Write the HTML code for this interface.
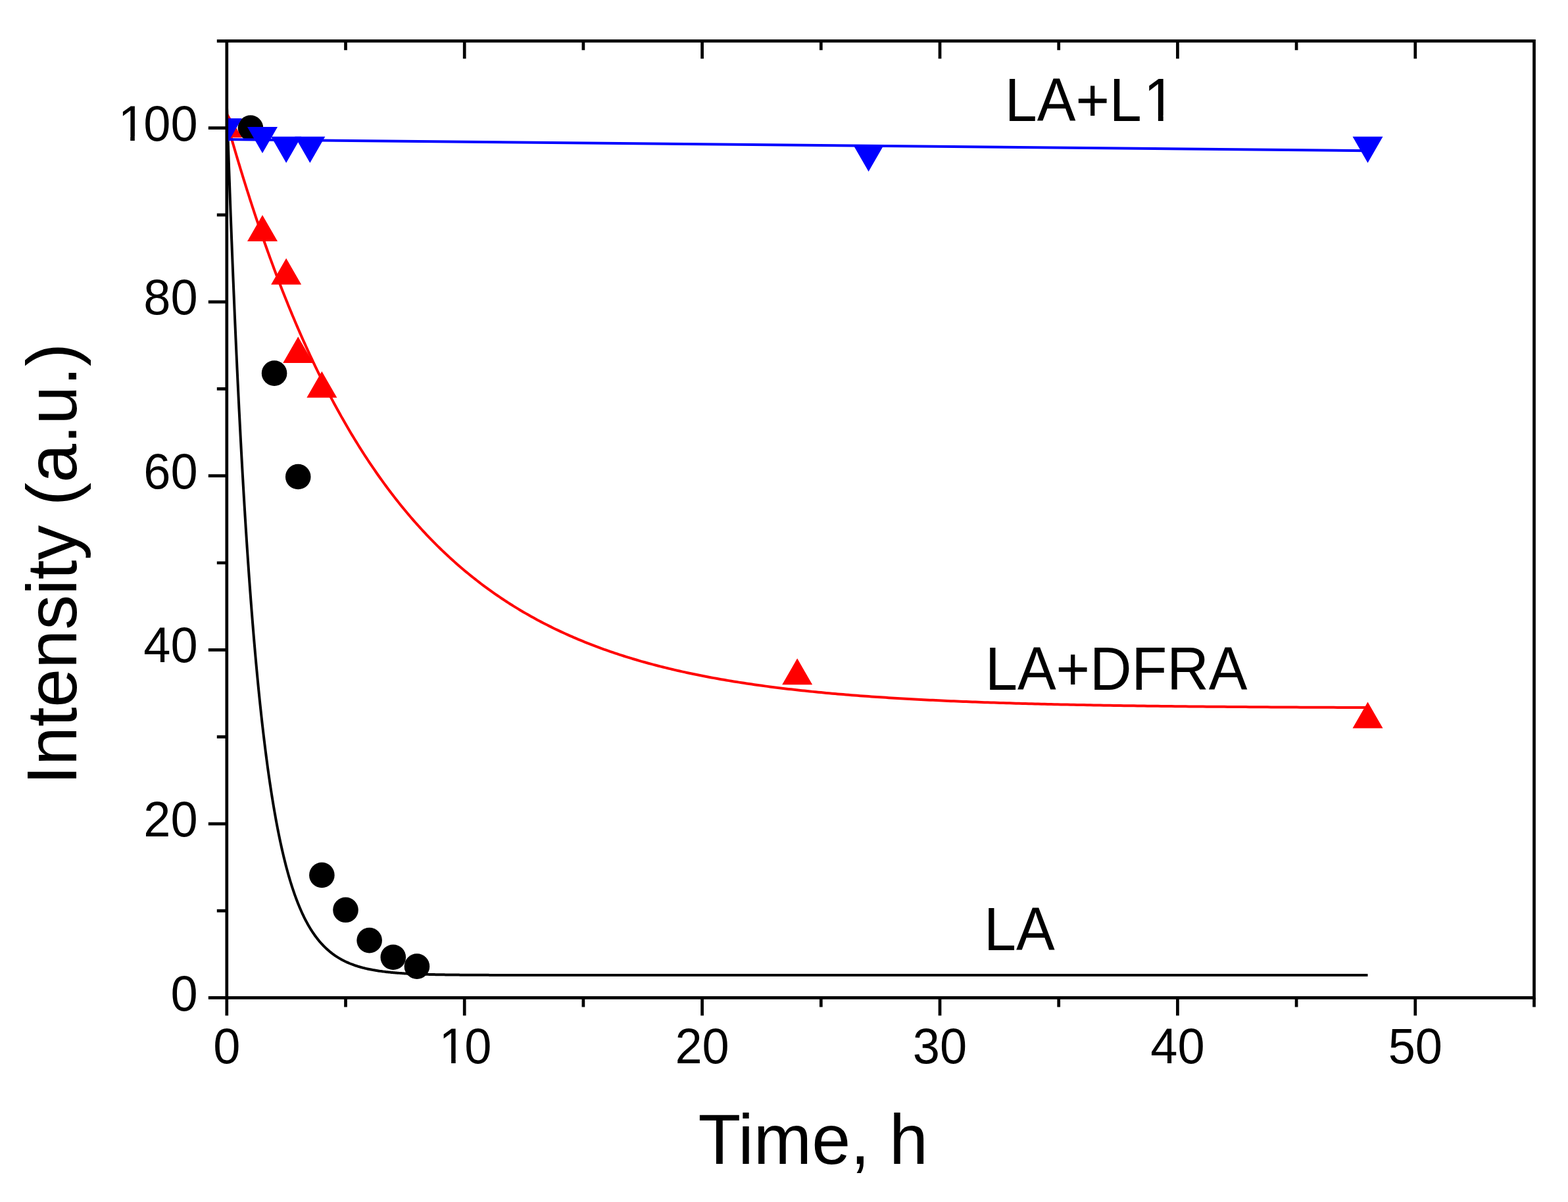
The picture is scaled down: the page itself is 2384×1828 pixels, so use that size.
<!DOCTYPE html>
<html><head><meta charset="utf-8"><title>Intensity vs Time</title>
<style>html,body{margin:0;padding:0;background:#fff;}svg{display:block;}text{font-family:"Liberation Sans",Arial,sans-serif;fill:#000;}</style>
</head><body>
<svg width="2384" height="1828" viewBox="0 0 2384 1828">
<rect width="2384" height="1828" fill="#fff"/>
<defs><clipPath id="c"><rect x="344.80" y="62.32" width="1987.70" height="1455.08"/></clipPath></defs>
<g clip-path="url(#c)">
<path d="M344.80,157.56 L344.80,157.63 L344.81,157.82 L344.82,158.15 L344.83,158.61 L344.85,159.20 L344.88,159.92 L344.90,160.76 L344.94,161.74 L344.97,162.85 L345.01,164.09 L345.06,165.46 L345.11,166.95 L345.16,168.58 L345.22,170.33 L345.28,172.21 L345.35,174.21 L345.42,176.34 L345.49,178.60 L345.57,180.98 L345.66,183.49 L345.74,186.11 L345.84,188.87 L345.93,191.74 L346.03,194.73 L346.14,197.85 L346.25,201.08 L346.36,204.43 L346.48,207.90 L346.60,211.48 L346.73,215.18 L346.86,218.99 L346.99,222.92 L347.13,226.96 L347.28,231.11 L347.42,235.37 L347.58,239.73 L347.73,244.21 L347.89,248.79 L348.06,253.47 L348.23,258.26 L348.40,263.15 L348.58,268.14 L348.76,273.23 L348.95,278.41 L349.14,283.69 L349.33,289.07 L349.53,294.54 L349.73,300.10 L349.94,305.76 L350.15,311.50 L350.37,317.33 L350.59,323.24 L350.82,329.24 L351.04,335.32 L351.28,341.48 L351.52,347.72 L351.76,354.04 L352.00,360.43 L352.26,366.90 L352.51,373.44 L352.77,380.05 L353.03,386.73 L353.30,393.47 L353.57,400.29 L353.85,407.16 L354.13,414.10 L354.41,421.10 L354.70,428.15 L355.00,435.26 L355.29,442.43 L355.60,449.65 L355.90,456.92 L356.21,464.25 L356.53,471.61 L356.85,479.03 L357.17,486.49 L357.50,493.99 L357.83,501.53 L358.17,509.11 L358.51,516.73 L358.85,524.38 L359.20,532.06 L359.55,539.78 L359.91,547.53 L360.27,555.30 L360.64,563.10 L361.01,570.93 L361.38,578.78 L361.76,586.65 L362.15,594.53 L362.53,602.44 L362.93,610.36 L363.32,618.30 L363.72,626.25 L364.13,634.21 L364.54,642.17 L364.95,650.15 L365.37,658.13 L365.79,666.12 L366.22,674.11 L366.65,682.10 L367.08,690.08 L367.52,698.07 L367.96,706.05 L368.41,714.03 L368.86,722.00 L369.32,729.97 L369.78,737.92 L370.24,745.86 L370.71,753.79 L371.19,761.70 L371.66,769.60 L372.15,777.49 L372.63,785.35 L373.12,793.20 L373.62,801.02 L374.12,808.82 L374.62,816.60 L375.13,824.36 L375.64,832.08 L376.16,839.78 L376.68,847.46 L377.20,855.10 L377.73,862.71 L378.26,870.29 L378.80,877.84 L379.34,885.35 L379.89,892.83 L380.44,900.28 L380.99,907.68 L381.55,915.05 L382.12,922.38 L382.68,929.67 L383.26,936.91 L383.83,944.12 L384.41,951.28 L385.00,958.41 L385.59,965.48 L386.18,972.51 L386.78,979.50 L387.38,986.44 L387.98,993.33 L388.59,1000.17 L389.21,1006.97 L389.83,1013.71 L390.45,1020.41 L391.08,1027.05 L391.71,1033.65 L392.35,1040.19 L392.99,1046.68 L393.63,1053.12 L394.28,1059.50 L394.93,1065.83 L395.59,1072.11 L396.25,1078.33 L396.92,1084.50 L397.59,1090.61 L398.26,1096.67 L398.94,1102.67 L399.63,1108.61 L400.31,1114.50 L401.00,1120.33 L401.70,1126.11 L402.40,1131.82 L403.11,1137.48 L403.81,1143.09 L404.53,1148.63 L405.25,1154.12 L405.97,1159.54 L406.69,1164.91 L407.42,1170.23 L408.16,1175.48 L408.90,1180.67 L409.64,1185.81 L410.39,1190.89 L411.14,1195.91 L411.90,1200.87 L412.66,1205.77 L413.42,1210.62 L414.19,1215.40 L414.96,1220.13 L415.74,1224.80 L416.52,1229.42 L417.31,1233.97 L418.10,1238.47 L418.89,1242.91 L419.69,1247.29 L420.49,1251.61 L421.30,1255.88 L422.11,1260.09 L422.93,1264.25 L423.75,1268.35 L424.57,1272.39 L425.40,1276.38 L426.24,1280.31 L427.07,1284.18 L427.91,1288.01 L428.76,1291.77 L429.61,1295.48 L430.47,1299.14 L431.32,1302.75 L432.19,1306.30 L433.05,1309.80 L433.93,1313.25 L434.80,1316.64 L435.68,1319.98 L436.57,1323.27 L437.46,1326.51 L438.35,1329.70 L439.25,1332.84 L440.15,1335.93 L441.05,1338.97 L441.96,1341.96 L442.88,1344.91 L443.80,1347.80 L444.72,1350.65 L445.65,1353.45 L446.58,1356.20 L447.51,1358.91 L448.45,1361.57 L449.40,1364.19 L450.35,1366.76 L451.30,1369.29 L452.26,1371.77 L453.22,1374.21 L454.19,1376.60 L455.16,1378.96 L456.13,1381.27 L457.11,1383.54 L458.09,1385.77 L459.08,1387.96 L460.07,1390.11 L461.07,1392.22 L462.07,1394.29 L463.07,1396.32 L464.08,1398.31 L465.09,1400.27 L466.11,1402.18 L467.13,1404.07 L468.16,1405.91 L469.19,1407.72 L470.22,1409.49 L471.26,1411.23 L472.30,1412.94 L473.35,1414.61 L474.40,1416.25 L475.46,1417.86 L476.52,1419.43 L477.58,1420.97 L478.65,1422.48 L479.72,1423.96 L480.80,1425.41 L481.88,1426.83 L482.97,1428.22 L484.06,1429.58 L485.15,1430.91 L486.25,1432.21 L487.36,1433.49 L488.46,1434.73 L489.57,1435.96 L490.69,1437.15 L491.81,1438.32 L492.93,1439.46 L494.06,1440.58 L495.20,1441.68 L496.33,1442.75 L497.47,1443.79 L498.62,1444.81 L499.77,1445.81 L500.92,1446.79 L502.08,1447.75 L503.25,1448.68 L504.41,1449.59 L505.58,1450.48 L506.76,1451.35 L507.94,1452.20 L509.13,1453.03 L510.31,1453.84 L511.51,1454.63 L512.70,1455.40 L513.91,1456.16 L515.11,1456.90 L516.32,1457.61 L517.54,1458.31 L518.75,1459.00 L519.98,1459.67 L521.20,1460.32 L522.44,1460.95 L523.67,1461.57 L524.91,1462.18 L526.16,1462.77 L527.40,1463.34 L528.66,1463.90 L529.91,1464.45 L531.18,1464.98 L532.44,1465.50 L533.71,1466.00 L534.99,1466.49 L536.26,1466.97 L537.55,1467.44 L538.83,1467.90 L540.13,1468.34 L541.42,1468.77 L542.72,1469.19 L544.03,1469.60 L545.33,1470.00 L546.65,1470.39 L547.96,1470.77 L549.28,1471.13 L550.61,1471.49 L551.94,1471.84 L553.27,1472.18 L554.61,1472.51 L555.96,1472.83 L557.30,1473.14 L558.65,1473.44 L560.01,1473.73 L561.37,1474.02 L562.73,1474.30 L564.10,1474.57 L565.48,1474.83 L566.85,1475.09 L568.23,1475.34 L569.62,1475.58 L571.01,1475.81 L572.40,1476.04 L573.80,1476.26 L575.21,1476.48 L576.61,1476.68 L578.02,1476.89 L579.44,1477.08 L580.86,1477.27 L582.28,1477.46 L583.71,1477.64 L585.14,1477.81 L586.58,1477.98 L588.02,1478.15 L589.47,1478.31 L590.92,1478.46 L592.37,1478.61 L593.83,1478.76 L595.29,1478.90 L596.76,1479.03 L598.23,1479.17 L599.71,1479.29 L601.19,1479.42 L602.67,1479.54 L604.16,1479.66 L605.65,1479.77 L607.15,1479.88 L608.65,1479.99 L610.16,1480.09 L611.67,1480.19 L613.18,1480.29 L614.70,1480.38 L616.22,1480.47 L617.75,1480.56 L619.28,1480.64 L620.82,1480.73 L622.36,1480.80 L623.90,1480.88 L625.45,1480.96 L627.00,1481.03 L628.56,1481.10 L630.12,1481.17 L631.68,1481.23 L633.25,1481.29 L634.83,1481.36 L636.41,1481.41 L637.99,1481.47 L639.58,1481.53 L641.17,1481.58 L642.76,1481.63 L644.36,1481.68 L645.97,1481.73 L647.58,1481.78 L649.19,1481.82 L650.80,1481.86 L652.43,1481.91 L654.05,1481.95 L655.68,1481.99 L657.32,1482.02 L658.95,1482.06 L660.60,1482.10 L662.24,1482.13 L663.89,1482.16 L665.55,1482.19 L667.21,1482.22 L668.87,1482.25 L670.54,1482.28 L672.21,1482.31 L673.89,1482.34 L675.57,1482.36 L677.26,1482.39 L678.95,1482.41 L680.64,1482.43 L682.34,1482.45 L684.04,1482.48 L685.75,1482.50 L687.46,1482.52 L689.18,1482.54 L690.90,1482.55 L692.62,1482.57 L694.35,1482.59 L696.08,1482.60 L697.82,1482.62 L699.56,1482.64 L701.30,1482.65 L703.05,1482.66 L704.81,1482.68 L706.57,1482.69 L708.33,1482.70 L710.10,1482.72 L711.87,1482.73 L713.64,1482.74 L715.42,1482.75 L717.21,1482.76 L718.99,1482.77 L720.79,1482.78 L722.58,1482.79 L724.38,1482.80 L726.19,1482.81 L728.00,1482.81 L729.81,1482.82 L731.63,1482.83 L733.45,1482.84 L735.28,1482.84 L737.11,1482.85 L738.95,1482.86 L740.79,1482.86 L742.63,1482.87 L744.48,1482.88 L746.33,1482.88 L748.19,1482.89 L750.05,1482.89 L751.92,1482.90 L753.78,1482.90 L755.66,1482.91 L757.54,1482.91 L759.42,1482.91 L761.31,1482.92 L763.20,1482.92 L765.09,1482.93 L766.99,1482.93 L768.90,1482.93 L770.80,1482.94 L772.72,1482.94 L774.63,1482.94 L776.55,1482.94 L778.48,1482.95 L780.41,1482.95 L782.34,1482.95 L784.28,1482.95 L786.22,1482.96 L788.17,1482.96 L790.12,1482.96 L792.08,1482.96 L794.04,1482.97 L796.00,1482.97 L797.97,1482.97 L799.94,1482.97 L801.92,1482.97 L803.90,1482.97 L805.88,1482.98 L807.87,1482.98 L809.87,1482.98 L811.87,1482.98 L813.87,1482.98 L815.87,1482.98 L817.89,1482.98 L819.90,1482.98 L821.92,1482.99 L823.94,1482.99 L825.97,1482.99 L828.01,1482.99 L830.04,1482.99 L832.08,1482.99 L834.13,1482.99 L836.18,1482.99 L838.23,1482.99 L840.29,1482.99 L842.35,1482.99 L844.42,1482.99 L846.49,1482.99 L848.56,1483.00 L850.64,1483.00 L852.73,1483.00 L854.82,1483.00 L856.91,1483.00 L859.01,1483.00 L861.11,1483.00 L863.21,1483.00 L865.32,1483.00 L867.43,1483.00 L869.55,1483.00 L871.68,1483.00 L873.80,1483.00 L875.93,1483.00 L878.07,1483.00 L880.21,1483.00 L882.35,1483.00 L884.50,1483.00 L886.65,1483.00 L888.81,1483.00 L890.97,1483.00 L893.13,1483.00 L895.30,1483.00 L897.48,1483.00 L899.66,1483.00 L901.84,1483.00 L904.02,1483.00 L906.22,1483.00 L908.41,1483.00 L910.61,1483.00 L912.81,1483.00 L915.02,1483.00 L917.23,1483.00 L919.45,1483.00 L921.67,1483.00 L923.90,1483.01 L926.13,1483.01 L928.36,1483.01 L930.60,1483.01 L932.84,1483.01 L935.09,1483.01 L937.34,1483.01 L939.59,1483.01 L941.85,1483.01 L944.12,1483.01 L946.38,1483.01 L948.66,1483.01 L950.93,1483.01 L953.21,1483.01 L955.50,1483.01 L957.79,1483.01 L960.08,1483.01 L962.38,1483.01 L964.68,1483.01 L966.99,1483.01 L969.30,1483.01 L971.61,1483.01 L973.93,1483.01 L976.26,1483.01 L978.59,1483.01 L980.92,1483.01 L983.25,1483.01 L985.59,1483.01 L987.94,1483.01 L990.29,1483.01 L992.64,1483.01 L995.00,1483.01 L997.36,1483.01 L999.73,1483.01 L1002.10,1483.01 L1004.48,1483.01 L1006.85,1483.01 L1009.24,1483.01 L1011.63,1483.01 L1014.02,1483.01 L1016.42,1483.01 L1018.82,1483.01 L1021.22,1483.01 L1023.63,1483.01 L1026.04,1483.01 L1028.46,1483.01 L1030.88,1483.01 L1033.31,1483.01 L1035.74,1483.01 L1038.18,1483.01 L1040.62,1483.01 L1043.06,1483.01 L1045.51,1483.01 L1047.96,1483.01 L1050.42,1483.01 L1052.88,1483.01 L1055.34,1483.01 L1057.81,1483.01 L1060.28,1483.01 L1062.76,1483.01 L1065.24,1483.01 L1067.73,1483.01 L1070.22,1483.01 L1072.72,1483.01 L1075.22,1483.01 L1077.72,1483.01 L1080.23,1483.01 L1082.74,1483.01 L1085.26,1483.01 L1087.78,1483.01 L1090.30,1483.01 L1092.83,1483.01 L1095.36,1483.01 L1097.90,1483.01 L1100.44,1483.01 L1102.99,1483.01 L1105.54,1483.01 L1108.10,1483.01 L1110.66,1483.01 L1113.22,1483.01 L1115.79,1483.01 L1118.36,1483.01 L1120.94,1483.01 L1123.52,1483.01 L1126.10,1483.01 L1128.69,1483.01 L1131.28,1483.01 L1133.88,1483.01 L1136.48,1483.01 L1139.09,1483.01 L1141.70,1483.01 L1144.32,1483.01 L1146.93,1483.01 L1149.56,1483.01 L1152.19,1483.01 L1154.82,1483.01 L1157.45,1483.01 L1160.09,1483.01 L1162.74,1483.01 L1165.39,1483.01 L1168.04,1483.01 L1170.70,1483.01 L1173.36,1483.01 L1176.03,1483.01 L1178.70,1483.01 L1181.37,1483.01 L1184.05,1483.01 L1186.74,1483.01 L1189.42,1483.01 L1192.12,1483.01 L1194.81,1483.01 L1197.51,1483.01 L1200.22,1483.01 L1202.93,1483.01 L1205.64,1483.01 L1208.36,1483.01 L1211.08,1483.01 L1213.81,1483.01 L1216.54,1483.01 L1219.27,1483.01 L1222.01,1483.01 L1224.75,1483.01 L1227.50,1483.01 L1230.25,1483.01 L1233.01,1483.01 L1235.77,1483.01 L1238.54,1483.01 L1241.31,1483.01 L1244.08,1483.01 L1246.86,1483.01 L1249.64,1483.01 L1252.42,1483.01 L1255.22,1483.01 L1258.01,1483.01 L1260.81,1483.01 L1263.61,1483.01 L1266.42,1483.01 L1269.23,1483.01 L1272.05,1483.01 L1274.87,1483.01 L1277.69,1483.01 L1280.52,1483.01 L1283.36,1483.01 L1286.19,1483.01 L1289.04,1483.01 L1291.88,1483.01 L1294.73,1483.01 L1297.59,1483.01 L1300.45,1483.01 L1303.31,1483.01 L1306.18,1483.01 L1309.05,1483.01 L1311.93,1483.01 L1314.81,1483.01 L1317.69,1483.01 L1320.58,1483.01 L1323.47,1483.01 L1326.37,1483.01 L1329.27,1483.01 L1332.18,1483.01 L1335.09,1483.01 L1338.00,1483.01 L1340.92,1483.01 L1343.85,1483.01 L1346.77,1483.01 L1349.71,1483.01 L1352.64,1483.01 L1355.58,1483.01 L1358.53,1483.01 L1361.48,1483.01 L1364.43,1483.01 L1367.39,1483.01 L1370.35,1483.01 L1373.32,1483.01 L1376.29,1483.01 L1379.26,1483.01 L1382.24,1483.01 L1385.22,1483.01 L1388.21,1483.01 L1391.20,1483.01 L1394.20,1483.01 L1397.20,1483.01 L1400.20,1483.01 L1403.21,1483.01 L1406.23,1483.01 L1409.24,1483.01 L1412.27,1483.01 L1415.29,1483.01 L1418.32,1483.01 L1421.36,1483.01 L1424.40,1483.01 L1427.44,1483.01 L1430.49,1483.01 L1433.54,1483.01 L1436.59,1483.01 L1439.65,1483.01 L1442.72,1483.01 L1445.79,1483.01 L1448.86,1483.01 L1451.94,1483.01 L1455.02,1483.01 L1458.11,1483.01 L1461.20,1483.01 L1464.29,1483.01 L1467.39,1483.01 L1470.49,1483.01 L1473.60,1483.01 L1476.71,1483.01 L1479.83,1483.01 L1482.95,1483.01 L1486.07,1483.01 L1489.20,1483.01 L1492.34,1483.01 L1495.47,1483.01 L1498.62,1483.01 L1501.76,1483.01 L1504.91,1483.01 L1508.07,1483.01 L1511.23,1483.01 L1514.39,1483.01 L1517.56,1483.01 L1520.73,1483.01 L1523.90,1483.01 L1527.08,1483.01 L1530.27,1483.01 L1533.46,1483.01 L1536.65,1483.01 L1539.85,1483.01 L1543.05,1483.01 L1546.26,1483.01 L1549.47,1483.01 L1552.68,1483.01 L1555.90,1483.01 L1559.12,1483.01 L1562.35,1483.01 L1565.58,1483.01 L1568.82,1483.01 L1572.06,1483.01 L1575.30,1483.01 L1578.55,1483.01 L1581.81,1483.01 L1585.06,1483.01 L1588.32,1483.01 L1591.59,1483.01 L1594.86,1483.01 L1598.14,1483.01 L1601.41,1483.01 L1604.70,1483.01 L1607.98,1483.01 L1611.28,1483.01 L1614.57,1483.01 L1617.87,1483.01 L1621.18,1483.01 L1624.49,1483.01 L1627.80,1483.01 L1631.12,1483.01 L1634.44,1483.01 L1637.76,1483.01 L1641.09,1483.01 L1644.43,1483.01 L1647.77,1483.01 L1651.11,1483.01 L1654.46,1483.01 L1657.81,1483.01 L1661.17,1483.01 L1664.53,1483.01 L1667.89,1483.01 L1671.26,1483.01 L1674.63,1483.01 L1678.01,1483.01 L1681.39,1483.01 L1684.78,1483.01 L1688.17,1483.01 L1691.56,1483.01 L1694.96,1483.01 L1698.36,1483.01 L1701.77,1483.01 L1705.18,1483.01 L1708.60,1483.01 L1712.02,1483.01 L1715.44,1483.01 L1718.87,1483.01 L1722.30,1483.01 L1725.74,1483.01 L1729.18,1483.01 L1732.63,1483.01 L1736.08,1483.01 L1739.53,1483.01 L1742.99,1483.01 L1746.46,1483.01 L1749.92,1483.01 L1753.39,1483.01 L1756.87,1483.01 L1760.35,1483.01 L1763.84,1483.01 L1767.32,1483.01 L1770.82,1483.01 L1774.31,1483.01 L1777.82,1483.01 L1781.32,1483.01 L1784.83,1483.01 L1788.35,1483.01 L1791.86,1483.01 L1795.39,1483.01 L1798.92,1483.01 L1802.45,1483.01 L1805.98,1483.01 L1809.52,1483.01 L1813.07,1483.01 L1816.62,1483.01 L1820.17,1483.01 L1823.73,1483.01 L1827.29,1483.01 L1830.85,1483.01 L1834.42,1483.01 L1838.00,1483.01 L1841.58,1483.01 L1845.16,1483.01 L1848.75,1483.01 L1852.34,1483.01 L1855.93,1483.01 L1859.53,1483.01 L1863.14,1483.01 L1866.75,1483.01 L1870.36,1483.01 L1873.98,1483.01 L1877.60,1483.01 L1881.22,1483.01 L1884.85,1483.01 L1888.49,1483.01 L1892.13,1483.01 L1895.77,1483.01 L1899.42,1483.01 L1903.07,1483.01 L1906.72,1483.01 L1910.38,1483.01 L1914.05,1483.01 L1917.72,1483.01 L1921.39,1483.01 L1925.07,1483.01 L1928.75,1483.01 L1932.44,1483.01 L1936.13,1483.01 L1939.82,1483.01 L1943.52,1483.01 L1947.22,1483.01 L1950.93,1483.01 L1954.64,1483.01 L1958.36,1483.01 L1962.08,1483.01 L1965.80,1483.01 L1969.53,1483.01 L1973.26,1483.01 L1977.00,1483.01 L1980.74,1483.01 L1984.49,1483.01 L1988.24,1483.01 L1991.99,1483.01 L1995.75,1483.01 L1999.51,1483.01 L2003.28,1483.01 L2007.05,1483.01 L2010.83,1483.01 L2014.61,1483.01 L2018.39,1483.01 L2022.18,1483.01 L2025.97,1483.01 L2029.77,1483.01 L2033.57,1483.01 L2037.37,1483.01 L2041.18,1483.01 L2045.00,1483.01 L2048.82,1483.01 L2052.64,1483.01 L2056.47,1483.01 L2060.30,1483.01 L2064.13,1483.01 L2067.97,1483.01 L2071.82,1483.01 L2075.67,1483.01 L2079.52,1483.01" fill="none" stroke="#000" stroke-width="4.0" stroke-linejoin="round"/>
<circle cx="380.94" cy="194.60" r="19.3" fill="#000"/>
<circle cx="417.08" cy="567.63" r="19.3" fill="#000"/>
<circle cx="453.22" cy="725.04" r="19.3" fill="#000"/>
<circle cx="489.36" cy="1330.89" r="19.3" fill="#000"/>
<circle cx="525.50" cy="1383.80" r="19.3" fill="#000"/>
<circle cx="561.64" cy="1430.10" r="19.3" fill="#000"/>
<circle cx="597.78" cy="1455.76" r="19.3" fill="#000"/>
<circle cx="633.92" cy="1469.65" r="19.3" fill="#000"/>
<path d="M344.80,185.34 L344.80,185.36 L344.82,185.41 L344.84,185.50 L344.88,185.62 L344.92,185.77 L344.97,185.96 L345.04,186.18 L345.11,186.44 L345.19,186.73 L345.28,187.06 L345.38,187.42 L345.49,187.82 L345.61,188.25 L345.74,188.71 L345.88,189.21 L346.03,189.74 L346.19,190.31 L346.36,190.90 L346.54,191.54 L346.73,192.21 L346.93,192.91 L347.13,193.64 L347.35,194.41 L347.58,195.21 L347.81,196.04 L348.06,196.91 L348.31,197.81 L348.58,198.75 L348.85,199.71 L349.14,200.71 L349.43,201.74 L349.73,202.81 L350.05,203.91 L350.37,205.04 L350.70,206.20 L351.04,207.39 L351.40,208.62 L351.76,209.87 L352.13,211.16 L352.51,212.48 L352.90,213.84 L353.30,215.22 L353.71,216.63 L354.13,218.08 L354.56,219.55 L355.00,221.06 L355.44,222.60 L355.90,224.16 L356.37,225.76 L356.85,227.39 L357.33,229.04 L357.83,230.73 L358.34,232.44 L358.85,234.19 L359.38,235.96 L359.91,237.76 L360.46,239.59 L361.01,241.45 L361.57,243.34 L362.15,245.25 L362.73,247.20 L363.32,249.17 L363.93,251.16 L364.54,253.19 L365.16,255.24 L365.79,257.32 L366.43,259.42 L367.08,261.55 L367.74,263.70 L368.41,265.89 L369.09,268.09 L369.78,270.32 L370.48,272.58 L371.19,274.86 L371.91,277.17 L372.63,279.50 L373.37,281.85 L374.12,284.23 L374.87,286.63 L375.64,289.06 L376.42,291.50 L377.20,293.97 L378.00,296.47 L378.80,298.98 L379.61,301.52 L380.44,304.07 L381.27,306.65 L382.12,309.25 L382.97,311.88 L383.83,314.52 L384.70,317.18 L385.59,319.86 L386.48,322.56 L387.38,325.28 L388.29,328.02 L389.21,330.78 L390.14,333.56 L391.08,336.36 L392.03,339.17 L392.99,342.00 L393.96,344.85 L394.93,347.72 L395.92,350.60 L396.92,353.50 L397.93,356.41 L398.94,359.35 L399.97,362.29 L401.00,365.26 L402.05,368.23 L403.11,371.23 L404.17,374.23 L405.25,377.25 L406.33,380.29 L407.42,383.34 L408.53,386.40 L409.64,389.48 L410.76,392.56 L411.90,395.67 L413.04,398.78 L414.19,401.90 L415.35,405.04 L416.52,408.19 L417.70,411.34 L418.89,414.51 L420.09,417.69 L421.30,420.88 L422.52,424.08 L423.75,427.29 L424.99,430.51 L426.24,433.74 L427.49,436.97 L428.76,440.22 L430.04,443.47 L431.32,446.73 L432.62,450.00 L433.93,453.27 L435.24,456.55 L436.57,459.84 L437.90,463.13 L439.25,466.43 L440.60,469.74 L441.96,473.05 L443.34,476.37 L444.72,479.69 L446.11,483.01 L447.51,486.34 L448.93,489.68 L450.35,493.02 L451.78,496.36 L453.22,499.70 L454.67,503.05 L456.13,506.40 L457.60,509.75 L459.08,513.11 L460.57,516.46 L462.07,519.82 L463.58,523.18 L465.09,526.54 L466.62,529.90 L468.16,533.26 L469.70,536.63 L471.26,539.99 L472.83,543.35 L474.40,546.71 L475.99,550.07 L477.58,553.43 L479.19,556.79 L480.80,560.14 L482.43,563.50 L484.06,566.85 L485.70,570.20 L487.36,573.55 L489.02,576.89 L490.69,580.23 L492.37,583.57 L494.06,586.90 L495.76,590.24 L497.47,593.56 L499.19,596.89 L500.92,600.20 L502.66,603.52 L504.41,606.83 L506.17,610.13 L507.94,613.43 L509.72,616.72 L511.51,620.01 L513.30,623.29 L515.11,626.57 L516.93,629.84 L518.75,633.10 L520.59,636.35 L522.44,639.60 L524.29,642.84 L526.16,646.08 L528.03,649.30 L529.91,652.52 L531.81,655.73 L533.71,658.94 L535.62,662.13 L537.55,665.32 L539.48,668.49 L541.42,671.66 L543.37,674.82 L545.33,677.97 L547.30,681.11 L549.28,684.24 L551.28,687.36 L553.27,690.47 L555.28,693.57 L557.30,696.67 L559.33,699.75 L561.37,702.82 L563.42,705.88 L565.48,708.93 L567.54,711.96 L569.62,714.99 L571.71,718.01 L573.80,721.01 L575.91,724.00 L578.02,726.98 L580.15,729.95 L582.28,732.91 L584.43,735.86 L586.58,738.79 L588.75,741.71 L590.92,744.62 L593.10,747.51 L595.29,750.40 L597.50,753.27 L599.71,756.13 L601.93,758.97 L604.16,761.80 L606.40,764.62 L608.65,767.43 L610.91,770.22 L613.18,773.00 L615.46,775.76 L617.75,778.51 L620.05,781.25 L622.36,783.98 L624.67,786.69 L627.00,789.38 L629.34,792.06 L631.68,794.73 L634.04,797.39 L636.41,800.03 L638.78,802.65 L641.17,805.26 L643.56,807.86 L645.97,810.44 L648.38,813.01 L650.80,815.56 L653.24,818.10 L655.68,820.62 L658.13,823.13 L660.60,825.62 L663.07,828.10 L665.55,830.57 L668.04,833.01 L670.54,835.45 L673.05,837.87 L675.57,840.27 L678.10,842.66 L680.64,845.03 L683.19,847.39 L685.75,849.73 L688.32,852.06 L690.90,854.37 L693.48,856.67 L696.08,858.95 L698.69,861.22 L701.30,863.47 L703.93,865.71 L706.57,867.93 L709.21,870.13 L711.87,872.32 L714.53,874.50 L717.21,876.66 L719.89,878.80 L722.58,880.93 L725.29,883.04 L728.00,885.14 L730.72,887.22 L733.45,889.29 L736.20,891.34 L738.95,893.38 L741.71,895.40 L744.48,897.40 L747.26,899.39 L750.05,901.37 L752.85,903.33 L755.66,905.27 L758.48,907.20 L761.31,909.12 L764.14,911.02 L766.99,912.90 L769.85,914.77 L772.72,916.62 L775.59,918.46 L778.48,920.28 L781.38,922.09 L784.28,923.89 L787.20,925.66 L790.12,927.43 L793.06,929.18 L796.00,930.91 L798.95,932.63 L801.92,934.33 L804.89,936.02 L807.87,937.70 L810.87,939.36 L813.87,941.01 L816.88,942.64 L819.90,944.25 L822.93,945.86 L825.97,947.44 L829.02,949.02 L832.08,950.58 L835.15,952.12 L838.23,953.65 L841.32,955.17 L844.42,956.68 L847.53,958.16 L850.64,959.64 L853.77,961.10 L856.91,962.55 L860.06,963.98 L863.21,965.40 L866.38,966.81 L869.55,968.20 L872.74,969.58 L875.93,970.95 L879.14,972.30 L882.35,973.64 L885.57,974.97 L888.81,976.28 L892.05,977.58 L895.30,978.87 L898.57,980.14 L901.84,981.40 L905.12,982.65 L908.41,983.89 L911.71,985.11 L915.02,986.32 L918.34,987.52 L921.67,988.71 L925.01,989.88 L928.36,991.04 L931.72,992.19 L935.09,993.33 L938.46,994.45 L941.85,995.56 L945.25,996.66 L948.66,997.75 L952.07,998.83 L955.50,999.89 L958.93,1000.95 L962.38,1001.99 L965.83,1003.02 L969.30,1004.04 L972.77,1005.05 L976.26,1006.05 L979.75,1007.03 L983.25,1008.01 L986.77,1008.97 L990.29,1009.92 L993.82,1010.87 L997.36,1011.80 L1000.91,1012.72 L1004.48,1013.63 L1008.05,1014.53 L1011.63,1015.42 L1015.22,1016.30 L1018.82,1017.16 L1022.42,1018.02 L1026.04,1018.87 L1029.67,1019.71 L1033.31,1020.54 L1036.96,1021.36 L1040.62,1022.16 L1044.28,1022.96 L1047.96,1023.75 L1051.65,1024.53 L1055.34,1025.30 L1059.05,1026.07 L1062.76,1026.82 L1066.49,1027.56 L1070.22,1028.29 L1073.97,1029.02 L1077.72,1029.73 L1081.48,1030.44 L1085.26,1031.14 L1089.04,1031.83 L1092.83,1032.51 L1096.63,1033.18 L1100.44,1033.84 L1104.27,1034.50 L1108.10,1035.14 L1111.94,1035.78 L1115.79,1036.41 L1119.65,1037.03 L1123.52,1037.65 L1127.39,1038.25 L1131.28,1038.85 L1135.18,1039.44 L1139.09,1040.02 L1143.01,1040.60 L1146.93,1041.17 L1150.87,1041.73 L1154.82,1042.28 L1158.77,1042.82 L1162.74,1043.36 L1166.72,1043.89 L1170.70,1044.42 L1174.69,1044.93 L1178.70,1045.44 L1182.71,1045.94 L1186.74,1046.44 L1190.77,1046.93 L1194.81,1047.41 L1198.87,1047.89 L1202.93,1048.36 L1207.00,1048.82 L1211.08,1049.27 L1215.17,1049.72 L1219.27,1050.17 L1223.38,1050.60 L1227.50,1051.03 L1231.63,1051.46 L1235.77,1051.88 L1239.92,1052.29 L1244.08,1052.70 L1248.25,1053.10 L1252.42,1053.50 L1256.61,1053.89 L1260.81,1054.27 L1265.02,1054.65 L1269.23,1055.02 L1273.46,1055.39 L1277.69,1055.75 L1281.94,1056.11 L1286.19,1056.46 L1290.46,1056.81 L1294.73,1057.15 L1299.02,1057.49 L1303.31,1057.82 L1307.61,1058.14 L1311.93,1058.47 L1316.25,1058.78 L1320.58,1059.09 L1324.92,1059.40 L1329.27,1059.70 L1333.63,1060.00 L1338.00,1060.30 L1342.38,1060.59 L1346.77,1060.87 L1351.17,1061.15 L1355.58,1061.43 L1360.00,1061.70 L1364.43,1061.97 L1368.87,1062.23 L1373.32,1062.49 L1377.77,1062.75 L1382.24,1063.00 L1386.72,1063.24 L1391.20,1063.49 L1395.70,1063.73 L1400.20,1063.96 L1404.72,1064.20 L1409.24,1064.42 L1413.78,1064.65 L1418.32,1064.87 L1422.88,1065.09 L1427.44,1065.30 L1432.01,1065.51 L1436.59,1065.72 L1441.19,1065.93 L1445.79,1066.13 L1450.40,1066.32 L1455.02,1066.52 L1459.65,1066.71 L1464.29,1066.90 L1468.94,1067.08 L1473.60,1067.26 L1478.27,1067.44 L1482.95,1067.62 L1487.64,1067.79 L1492.34,1067.96 L1497.04,1068.13 L1501.76,1068.29 L1506.49,1068.46 L1511.23,1068.61 L1515.97,1068.77 L1520.73,1068.92 L1525.49,1069.08 L1530.27,1069.22 L1535.05,1069.37 L1539.85,1069.51 L1544.65,1069.65 L1549.47,1069.79 L1554.29,1069.93 L1559.12,1070.06 L1563.97,1070.20 L1568.82,1070.32 L1573.68,1070.45 L1578.55,1070.58 L1583.43,1070.70 L1588.32,1070.82 L1593.22,1070.94 L1598.14,1071.05 L1603.06,1071.17 L1607.98,1071.28 L1612.92,1071.39 L1617.87,1071.50 L1622.83,1071.61 L1627.80,1071.71 L1632.78,1071.81 L1637.76,1071.91 L1642.76,1072.01 L1647.77,1072.11 L1652.78,1072.21 L1657.81,1072.30 L1662.85,1072.39 L1667.89,1072.48 L1672.94,1072.57 L1678.01,1072.66 L1683.08,1072.74 L1688.17,1072.83 L1693.26,1072.91 L1698.36,1072.99 L1703.48,1073.07 L1708.60,1073.15 L1713.73,1073.23 L1718.87,1073.30 L1724.02,1073.37 L1729.18,1073.45 L1734.35,1073.52 L1739.53,1073.59 L1744.72,1073.66 L1749.92,1073.72 L1755.13,1073.79 L1760.35,1073.85 L1765.58,1073.92 L1770.82,1073.98 L1776.06,1074.04 L1781.32,1074.10 L1786.59,1074.16 L1791.86,1074.22 L1797.15,1074.27 L1802.45,1074.33 L1807.75,1074.38 L1813.07,1074.44 L1818.39,1074.49 L1823.73,1074.54 L1829.07,1074.59 L1834.42,1074.64 L1839.79,1074.69 L1845.16,1074.73 L1850.54,1074.78 L1855.93,1074.83 L1861.34,1074.87 L1866.75,1074.91 L1872.17,1074.96 L1877.60,1075.00 L1883.04,1075.04 L1888.49,1075.08 L1893.95,1075.12 L1899.42,1075.16 L1904.90,1075.20 L1910.38,1075.23 L1915.88,1075.27 L1921.39,1075.31 L1926.91,1075.34 L1932.44,1075.38 L1937.97,1075.41 L1943.52,1075.44 L1949.07,1075.47 L1954.64,1075.51 L1960.21,1075.54 L1965.80,1075.57 L1971.39,1075.60 L1977.00,1075.63 L1982.61,1075.66 L1988.24,1075.68 L1993.87,1075.71 L1999.51,1075.74 L2005.16,1075.76 L2010.83,1075.79 L2016.50,1075.81 L2022.18,1075.84 L2027.87,1075.86 L2033.57,1075.89 L2039.28,1075.91 L2045.00,1075.93 L2050.73,1075.95 L2056.47,1075.98 L2062.22,1076.00 L2067.97,1076.02 L2073.74,1076.04 L2079.52,1076.06" fill="none" stroke="#ff0000" stroke-width="4.0" stroke-linejoin="round"/>
<path d="M344.80,169.31 L367.80,209.31 L321.80,209.31 Z" fill="#ff0000"/>
<path d="M399.01,326.99 L422.01,366.99 L376.01,366.99 Z" fill="#ff0000"/>
<path d="M435.15,392.86 L458.15,432.86 L412.15,432.86 Z" fill="#ff0000"/>
<path d="M453.22,511.91 L476.22,551.91 L430.22,551.91 Z" fill="#ff0000"/>
<path d="M489.36,564.83 L512.36,604.83 L466.36,604.83 Z" fill="#ff0000"/>
<path d="M1212.16,1001.35 L1235.16,1041.35 L1189.16,1041.35 Z" fill="#ff0000"/>
<path d="M2079.52,1067.49 L2102.52,1107.49 L2056.52,1107.49 Z" fill="#ff0000"/>
<path d="M344.80,212.00 L2079.52,229.28" fill="none" stroke="#0000ff" stroke-width="4.0"/>
<path d="M321.80,179.89 L367.80,179.89 L344.80,219.89 Z" fill="#0000ff"/>
<path d="M376.01,193.12 L422.01,193.12 L399.01,233.12 Z" fill="#0000ff"/>
<path d="M412.15,207.67 L458.15,207.67 L435.15,247.67 Z" fill="#0000ff"/>
<path d="M448.29,207.67 L494.29,207.67 L471.29,247.67 Z" fill="#0000ff"/>
<path d="M1297.58,220.90 L1343.58,220.90 L1320.58,260.90 Z" fill="#0000ff"/>
<path d="M2056.52,207.67 L2102.52,207.67 L2079.52,247.67 Z" fill="#0000ff"/>
</g>
<rect x="344.80" y="62.32" width="1987.70" height="1455.08" fill="none" stroke="#000" stroke-width="4.7"/>
<path d="M344.80,1517.40 V1544.40 M525.50,1517.40 V1531.40 M525.50,62.32 V76.32 M706.20,1517.40 V1544.40 M706.20,62.32 V89.32 M886.90,1517.40 V1531.40 M886.90,62.32 V76.32 M1067.60,1517.40 V1544.40 M1067.60,62.32 V89.32 M1248.30,1517.40 V1531.40 M1248.30,62.32 V76.32 M1429.00,1517.40 V1544.40 M1429.00,62.32 V89.32 M1609.70,1517.40 V1531.40 M1609.70,62.32 V76.32 M1790.40,1517.40 V1544.40 M1790.40,62.32 V89.32 M1971.10,1517.40 V1531.40 M1971.10,62.32 V76.32 M2151.80,1517.40 V1544.40 M2151.80,62.32 V89.32 M2332.50,1517.40 V1531.40 M344.80,1517.40 H316.80 M344.80,1385.12 H329.80 M344.80,1252.84 H316.80 M344.80,1120.56 H329.80 M344.80,988.28 H316.80 M344.80,856.00 H329.80 M344.80,723.72 H316.80 M344.80,591.44 H329.80 M344.80,459.16 H316.80 M344.80,326.88 H329.80 M344.80,194.60 H316.80 M344.80,62.32 H329.80" stroke="#000" stroke-width="4.7" fill="none"/>
<text transform="translate(344.80,1616.80) scale(1,1.02)" x="-20.58" font-size="74">0</text>
<text transform="translate(706.20,1616.80) scale(1,1.02)" x="-41.16" font-size="74"><tspan dx="2.49">1</tspan><tspan dx="-2.49">0</tspan></text><g transform="translate(706.20,1616.80) scale(1,1.02)" fill="#fff"><rect x="-34.03" y="-6.23" width="13.97" height="7.23"/><rect x="-13.51" y="-6.23" width="13.39" height="7.23"/></g>
<text transform="translate(1067.60,1616.80) scale(1,1.02)" x="-41.16" font-size="74">20</text>
<text transform="translate(1429.00,1616.80) scale(1,1.02)" x="-41.16" font-size="74">30</text>
<text transform="translate(1790.40,1616.80) scale(1,1.02)" x="-41.16" font-size="74">40</text>
<text transform="translate(2151.80,1616.80) scale(1,1.02)" x="-41.16" font-size="74">50</text>
<text transform="translate(300.60,1536.60) scale(1,1.02)" x="-41.16" font-size="74">0</text>
<text transform="translate(300.60,1272.04) scale(1,1.02)" x="-82.31" font-size="74">20</text>
<text transform="translate(300.60,1007.48) scale(1,1.02)" x="-82.31" font-size="74">40</text>
<text transform="translate(300.60,742.92) scale(1,1.02)" x="-82.31" font-size="74">60</text>
<text transform="translate(300.60,478.36) scale(1,1.02)" x="-82.31" font-size="74">80</text>
<text transform="translate(300.60,213.80) scale(1,1.02)" x="-123.47" font-size="74"><tspan dx="2.49">1</tspan><tspan dx="-2.49">0</tspan>0</text><g transform="translate(300.60,213.80) scale(1,1.02)" fill="#fff"><rect x="-116.34" y="-6.23" width="13.97" height="7.23"/><rect x="-95.82" y="-6.23" width="13.39" height="7.23"/></g>
<text transform="translate(1061.5,1770) scale(1,1.02)" font-size="106">Time, h</text>
<text transform="translate(115.7,1193.5) rotate(-90) scale(1,1.02)" font-size="106">Intensity (a.u.)</text>
<text transform="translate(1527.80,183.50) scale(1,1.048)" x="0.00" font-size="88">LA+L<tspan dx="2.96">1</tspan></text><g transform="translate(1527.80,183.50) scale(1,1.048)" fill="#fff"><rect x="216.64" y="-7.27" width="16.43" height="8.27"/><rect x="240.84" y="-7.27" width="15.74" height="8.27"/></g>
<text transform="translate(1498.00,1048.70) scale(1,1.048)" x="0.00" font-size="88">LA+DFRA</text>
<text transform="translate(1496.00,1445.20) scale(1,1.048)" x="0.00" font-size="88">LA</text>
</svg></body></html>
